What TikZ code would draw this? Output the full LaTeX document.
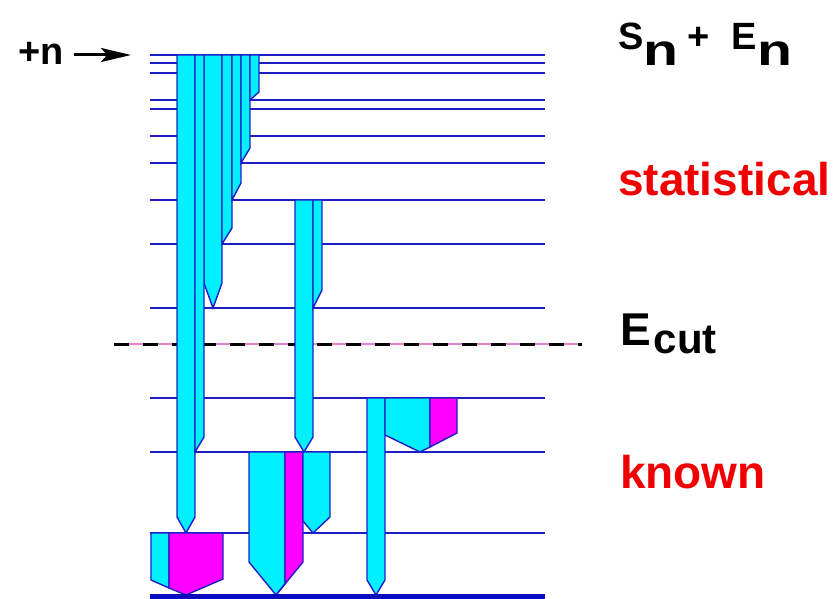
\documentclass[tikz,border=0pt]{standalone}
\usepackage{fontspec}
\setmainfont{Liberation Sans}
\usetikzlibrary{arrows.meta}
\definecolor{lineblue}{RGB}{30,30,200}
\definecolor{groundblue}{RGB}{10,10,190}
\definecolor{bandcyan}{RGB}{0,240,255}
\definecolor{bandmag}{RGB}{255,0,255}
\definecolor{labred}{RGB}{240,0,0}
\definecolor{cutpink}{RGB}{230,130,210}
\newcommand{\lowsub}[4]{\raisebox{-#1}{\fontsize{#2}{#2}\selectfont\scalebox{#3}[1]{#4}}}

\begin{document}
\begin{tikzpicture}[x=1pt,y=-1pt,>=Stealth,
    lvl/.style={lineblue,line width=1.5pt},
    cyanband/.style={fill=bandcyan,draw=lineblue,line width=1.4pt},
    magband/.style={fill=bandmag,draw=lineblue,line width=1.4pt},
    lab/.style={inner sep=0pt,anchor=base west,font=\bfseries\fontsize{46}{46}\selectfont}]
  \useasboundingbox (0,0) rectangle (839,599);
  % levels
  \foreach \y in {55,63,73,100,109,136,163,200,244,308,398,452,533}
    \draw[lvl] (150,\y) -- (545,\y);
  % cut energy
  \draw[cutpink,line width=1.3pt] (114,344) -- (582,344);
  \draw[black,line width=3pt,dash pattern=on 15pt off 14pt] (114,344) -- (582,344);
  % cascade from the capture state
  \draw[cyanband] (177,55) -- (195,55) -- (195,517) -- (186,533) -- (177,517) -- cycle;
  \draw[cyanband] (204,55) -- (222,55) -- (222,283) -- (213,308) -- (204,283) -- cycle;
  \foreach \xl/\xr/\ys/\ye in {195/204/437/452,222/232/228/244,232/241/183/200,241/250/148/163,250/259/92/100}
    \draw[cyanband] (\xl,55) -- (\xr,55) -- (\xr,\ys) -- (\xl,\ye) -- cycle;
  \draw[cyanband] (295,200) -- (313,200) -- (313,437) -- (304,452) -- (295,437) -- cycle;
  \draw[cyanband] (313,200) -- (322,200) -- (322,290) -- (313,308) -- cycle;
  \draw[cyanband] (367,398) -- (385,398) -- (385,580) -- (376,595) -- (367,580) -- cycle;
  \draw[cyanband] (385,398) -- (430,398) -- (430,447) -- (420,452) -- (385,435) -- cycle;
  \draw[magband] (430,398) -- (457,398) -- (457,433) -- (430,447) -- cycle;
  \draw[cyanband] (249,452) -- (285,452) -- (285,584) -- (276,595) -- (249,562) -- cycle;
  \draw[magband] (285,452) -- (303,452) -- (303,562) -- (276,595) -- (285,584) -- cycle;
  \draw[cyanband] (303,452) -- (330,452) -- (330,517) -- (313,533) -- (303,521) -- cycle;
  \draw[cyanband] (151,533) -- (169,533) -- (169,588) -- (151,580) -- cycle;
  \draw[magband] (169,533) -- (223,533) -- (223,579) -- (186,595) -- (169,588) -- cycle;
  % ground state
  \draw[groundblue,line width=5pt] (150,596) -- (545,596);
  % labels
  \node[lab,font=\bfseries\fontsize{38}{38}\selectfont] (plusn) at (18,65) {+n};
  \coordinate (arrowtip) at (131,55);
  \draw[-{Stealth[length=30pt,width=14pt,inset=6pt]},line width=3pt,shorten <=10pt] (plusn.east |- arrowtip) -- (arrowtip);
  \node[lab,font=\bfseries\fontsize{38}{38}\selectfont] (snen) at (618,50)
    {S\lowsub{16pt}{44}{1.3}{n}\hspace{9pt}+\hspace{22pt}E\lowsub{16pt}{44}{1.3}{n}};
  \node[lab,text=labred] (stat) at (618,196) {statistical};
  \node[lab] (ecut) at (620,345) {E\hspace{3pt}\lowsub{8pt}{42}{1}{cut}};
  \node[lab,text=labred] (known) at (620,488) {known};
\end{tikzpicture}
\end{document}
